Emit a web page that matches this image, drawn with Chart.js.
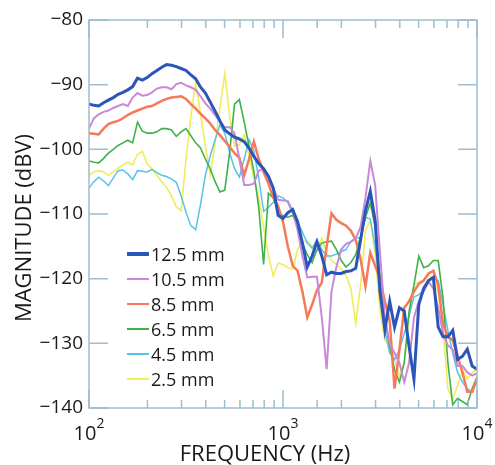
<!DOCTYPE html>
<html lang="en">
<head>
<meta charset="UTF-8" />
<title>Magnitude vs frequency</title>
<style>
  body { margin: 0; background: #fff; }
  .wrap { position: relative; width: 495px; height: 465px; }
  #legend {
    position: absolute; left: 127px; top: 241px;
    font-family: 'Open Sans', sans-serif; font-size: 18px; color: #1a1a1a;
  }
  .row { height: 25.1px; display: flex; align-items: center; }
  .swatch { width: 22px; margin-right: 2px; }
</style>
</head>
<body>
<div class="wrap">
  <canvas id="magChart" width="495" height="465"></canvas>
  <div id="legend"></div>
</div>

<script src="https://cdn.jsdelivr.net/npm/chart.js"></script>
<script>
// frequency points (Hz), 40 per decade
const freqHz = [100, 105.9, 112.2, 118.9, 125.9, 133.4, 141.3, 149.6, 158.5, 167.9,
  177.8, 188.4, 199.5, 211.3, 223.9, 237.1, 251.2, 266.1, 281.8, 298.5,
  316.2, 335.0, 354.8, 375.8, 398.1, 421.7, 446.7, 473.2, 501.2, 530.9,
  562.3, 595.7, 631.0, 668.3, 707.9, 749.9, 794.3, 841.4, 891.3, 944.1,
  1000, 1059, 1122, 1189, 1259, 1334, 1413, 1496, 1585, 1679,
  1778, 1884, 1995, 2113, 2239, 2371, 2512, 2661, 2818, 2985,
  3162, 3350, 3548, 3758, 3981, 4217, 4467, 4732, 5012, 5309,
  5623, 5957, 6310, 6683, 7079, 7499, 7943, 8414, 8913, 9441, 10000];

// magnitude (dBV) per gap
const mag125 = [-93.0, -93.2, -93.3, -92.8, -92.4, -92.0, -91.5, -91.2, -90.8, -90.3,
  -89.0, -89.3, -88.9, -88.3, -87.8, -87.3, -86.9, -87.0, -87.2, -87.5,
  -87.8, -88.5, -89.1, -90.4, -91.3, -92.7, -94.1, -95.6, -97.0, -97.6,
  -98.1, -98.4, -98.8, -99.8, -101.1, -102.2, -103.0, -104.2, -106.0, -110.2,
  -110.7, -109.8, -109.3, -111.2, -114.5, -118.2, -116.5, -114.3, -116.5, -119.4,
  -119.0, -119.2, -119.2, -118.9, -118.8, -118.4, -114.0, -109.5, -106.5, -111.0,
  -122.0, -127.9, -123.5, -127.5, -124.5, -125.0, -130.5, -135.5, -124.0, -121.5,
  -120.3, -119.8, -127.5, -129.0, -129.0, -128.0, -132.5, -132.0, -130.9, -133.5, -134.0];

const mag105 = [-96.8, -95.2, -94.6, -94.2, -94.0, -93.6, -93.3, -93.0, -93.3, -92.0,
  -91.3, -91.7, -91.6, -91.2, -90.6, -90.4, -90.4, -90.7, -89.9, -89.7,
  -90.1, -90.4, -90.8, -91.8, -92.9, -93.7, -94.7, -95.8, -96.6, -96.6,
  -97.5, -101.5, -105.5, -105.5, -105.3, -103.3, -103.0, -104.0, -106.0, -107.8,
  -107.9, -108.0, -109.5, -112.5, -116.5, -119.8, -119.7, -119.7, -126.0, -134.0,
  -122.0, -118.2, -115.5, -114.6, -114.3, -113.8, -112.0, -107.5, -101.8, -105.5,
  -116.0, -126.0, -130.0, -131.5, -133.0, -136.0, -133.0, -126.0, -123.5, -122.0,
  -120.5, -121.5, -124.5, -128.5, -130.3, -131.0, -133.5, -133.5, -134.5, -135.0, -134.6];

const mag85 = [-97.5, -97.6, -97.7, -96.8, -96.1, -95.8, -95.6, -95.2, -94.7, -94.3,
  -94.0, -93.7, -93.4, -93.3, -92.9, -92.5, -92.2, -92.0, -91.9, -91.8,
  -92.2, -93.0, -93.7, -94.5, -95.2, -96.0, -97.0, -97.8, -98.7, -99.6,
  -100.6, -101.3, -104.0, -101.5, -98.8, -101.5, -103.5, -105.3, -107.5, -108.8,
  -111.2, -115.0, -118.0, -118.8, -122.0, -126.0, -124.0, -121.8, -120.6, -115.0,
  -109.9, -110.9, -111.4, -111.8, -112.6, -114.0, -117.0, -121.2, -116.0, -118.0,
  -120.0, -123.5, -126.5, -137.0, -131.0, -124.5, -123.5, -122.0, -120.8, -120.3,
  -119.2, -118.8, -121.0, -127.0, -129.0, -129.5, -132.0, -134.5, -137.5, -137.5, -135.6];

const mag65 = [-101.8, -102.0, -102.1, -101.4, -100.6, -100.0, -99.4, -99.0, -98.6, -99.0,
  -95.8, -97.2, -97.5, -97.5, -97.3, -96.8, -96.8, -97.0, -98.0, -97.3,
  -96.8, -97.9, -99.0, -99.8, -101.5, -103.0, -105.0, -106.6, -106.3, -100.5,
  -93.0, -92.3, -95.8, -99.5, -103.5, -109.0, -117.8, -106.8, -107.5, -109.5,
  -110.3, -110.5, -110.2, -111.8, -114.5, -116.3, -117.5, -115.5, -114.5, -114.3,
  -114.2, -115.5, -117.2, -118.2, -117.5, -116.3, -113.5, -110.5, -108.3, -112.0,
  -120.0, -126.5, -130.5, -134.0, -136.0, -133.0, -125.0, -121.0, -116.5, -118.3,
  -118.0, -117.2, -117.2, -123.0, -133.0, -139.5, -138.5, -139.0, -139.5, -137.0, -135.2];

const mag45 = [-106.0, -105.0, -104.3, -104.9, -105.6, -104.4, -103.3, -103.2, -103.8, -104.7,
  -103.3, -103.4, -103.5, -103.1, -103.6, -104.0, -104.2, -104.6, -105.1, -107.2,
  -109.7, -111.8, -112.4, -108.5, -104.0, -101.0, -98.5, -96.2, -97.5, -100.5,
  -103.0, -104.3, -101.5, -98.5, -100.3, -104.5, -109.6, -109.0, -108.2, -107.2,
  -107.5, -108.2, -110.0, -111.2, -112.8, -114.5, -115.3, -114.0, -115.5, -116.5,
  -116.5, -116.2, -115.8, -115.5, -114.2, -113.7, -113.7, -110.5, -110.8, -115.0,
  -121.0, -128.0, -131.5, -132.5, -131.0, -128.5, -125.8, -122.8, -122.5, -121.8,
  -120.3, -120.0, -120.3, -124.0, -128.0, -131.5, -134.5, -136.0, -137.0, -137.5, -135.6];

const mag25 = [-104.0, -103.5, -103.3, -103.5, -104.0, -103.5, -102.9, -102.4, -102.0, -102.4,
  -100.8, -100.3, -102.3, -103.0, -104.0, -105.0, -105.9, -107.2, -108.9, -109.5,
  -101.5, -95.0, -89.6, -94.5, -99.5, -104.0, -99.0, -93.5, -88.3, -95.0,
  -99.5, -99.3, -97.8, -101.0, -104.5, -107.5, -112.0, -116.5, -119.6, -117.6,
  -117.8, -118.3, -118.5, -115.5, -114.3, -114.2, -115.0, -115.8, -113.7, -116.0,
  -117.2, -117.8, -118.5, -119.5, -121.5, -127.0, -121.0, -112.5, -111.0, -116.0,
  -125.0, -129.5, -130.5, -132.5, -135.0, -133.0, -126.0, -121.0, -120.5, -120.2,
  -119.5, -120.0, -122.0, -128.0, -137.0, -138.7, -136.5, -134.1, -135.5, -134.5, -134.0];

const seriesLabels = ['12.5 mm', '10.5 mm', '8.5 mm', '6.5 mm', '4.5 mm', '2.5 mm'];
const seriesValues = [mag125, mag105, mag85, mag65, mag45, mag25];
const seriesColors = ['#2b55b8', '#c789d8', '#f47a5a', '#3fb14c', '#56c3e8', '#f1ec5a'];
const seriesWidths = [3, 2, 2.5, 1.6, 1.5, 1.6];

const xDecades = [100, 1000, 10000];
const xDecadeExp = ['2', '3', '4'];

const frameColor = '#9dbdd0';
const font = "'Open Sans', sans-serif";

// box, inward ticks, x labels and axis titles
const framePlugin = {
  id: 'frame',
  afterDraw(chart) {
    const { ctx, chartArea: a, scales } = chart;
    const x = scales.x, y = scales.y;
    ctx.save();
    ctx.strokeStyle = frameColor;
    ctx.lineWidth = 1.5;
    ctx.strokeRect(a.left, a.top, a.right - a.left, a.bottom - a.top);

    ctx.beginPath();
    y.ticks.forEach(t => {
      const py = y.getPixelForValue(t.value);
      ctx.moveTo(a.left, py); ctx.lineTo(a.left + 19, py);
      ctx.moveTo(a.right, py); ctx.lineTo(a.right - 19, py);
    });
    x.ticks.forEach(t => {
      const px = x.getPixelForValue(t.value);
      const lg = Math.log10(t.value);
      const len = Math.abs(lg - Math.round(lg)) < 1e-6 ? 18 : 8;
      ctx.moveTo(px, a.bottom); ctx.lineTo(px, a.bottom - len);
      ctx.moveTo(px, a.top); ctx.lineTo(px, a.top + len);
    });
    ctx.stroke();

    ctx.fillStyle = '#1a1a1a';
    ctx.textBaseline = 'alphabetic';
    xDecades.forEach((v, i) => {
      const px = x.getPixelForValue(v);
      ctx.font = '20px ' + font;
      const w1 = ctx.measureText('10').width;
      ctx.font = '14px ' + font;
      const w2 = ctx.measureText(xDecadeExp[i]).width;
      const left = px - (w1 + w2) / 2;
      ctx.font = '20px ' + font;
      ctx.textAlign = 'left';
      ctx.fillText('10', left, 440);
      ctx.font = '14px ' + font;
      ctx.fillText(xDecadeExp[i], left + w1, 428);
    });

    ctx.font = '22px ' + font;
    ctx.textAlign = 'center';
    ctx.fillText('FREQUENCY (Hz)', 265, 461);
    ctx.translate(31, 228);
    ctx.rotate(-Math.PI / 2);
    ctx.fillText('MAGNITUDE (dBV)', 0, 0);
    ctx.restore();
  }
};

const ctx = document.getElementById('magChart').getContext('2d');
new Chart(ctx, {
  type: 'line',
  data: {
    datasets: seriesLabels.map((label, i) => ({
      label: label,
      data: freqHz.map((f, j) => ({ x: f, y: seriesValues[i][j] })),
      borderColor: seriesColors[i],
      borderWidth: seriesWidths[i],
      pointRadius: 0,
      tension: 0,
      fill: false
    }))
  },
  options: {
    responsive: false,
    animation: false,
    layout: { padding: { top: 20, right: 18, left: 0, bottom: 0 } },
    plugins: { legend: { display: false }, tooltip: { enabled: false } },
    scales: {
      x: {
        type: 'logarithmic', min: 100, max: 10000,
        grid: { display: false }, border: { display: false },
        ticks: { display: false },
        afterFit: s => { s.height = 57; }
      },
      y: {
        min: -140, max: -80,
        grid: { display: false, drawTicks: false }, border: { display: false },
        ticks: {
          stepSize: 10, padding: 6, color: '#1a1a1a',
          font: { family: font, size: 19 },
          callback: v => (v < 0 ? '\u2212' : '') + Math.abs(v)
        },
        afterFit: s => { s.width = 89; }
      }
    }
  },
  plugins: [framePlugin]
});

// legend inside the plot, lower left
const legend = document.getElementById('legend');
seriesLabels.forEach((label, i) => {
  const row = document.createElement('div');
  row.className = 'row';
  const sw = document.createElement('span');
  sw.className = 'swatch';
  sw.style.borderTop = (i === 0 ? 4 : 2.5) + 'px solid ' + seriesColors[i];
  row.appendChild(sw);
  row.appendChild(document.createTextNode(label));
  legend.appendChild(row);
});
</script>
</body>
</html>
